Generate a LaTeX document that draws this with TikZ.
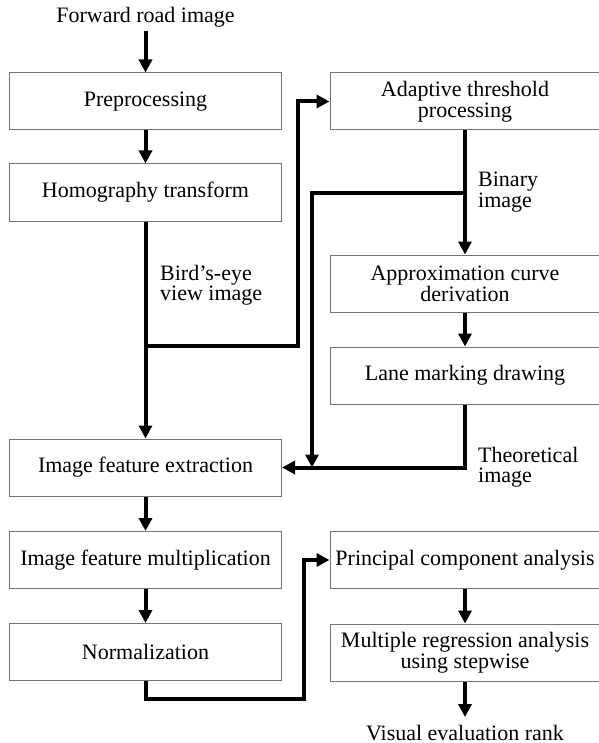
\documentclass[tikz,border=0pt]{standalone}
\usepackage{fontspec}
\setmainfont{Liberation Serif}
\usetikzlibrary{arrows.meta}
\begin{document}
\begin{tikzpicture}[x=1pt,y=-1pt,
  box/.style={draw=black!55,line width=1pt,minimum height=57pt,inner sep=0pt,align=center,
    font=\fontsize{22}{21}\selectfont},
  lbox/.style={box,minimum width=272pt},
  rbox/.style={box,minimum width=270pt},
  lab/.style={align=left,inner sep=0pt,anchor=west,font=\fontsize{22}{20.5}\selectfont},
  txt/.style={inner sep=0pt,font=\fontsize{22}{21}\selectfont},
  conn/.style={line width=4pt,-{Triangle[length=13pt,width=13pt]}}]
\useasboundingbox (0,0) rectangle (598,743);
\node[txt] (fwd) at (145.5,17) {Forward road image};
\node[lbox] (pre) at (145.5,101.5) {Preprocessing};
\node[lbox] (hom) at (145.5,192.5) {Homography transform};
\node[lbox] (ife) at (145.5,467.5) {Image feature extraction};
\node[lbox] (ifm) at (145.5,560) {Image feature multiplication};
\node[lbox] (nrm) at (145.5,652) {Normalization};
\node[rbox] (ada) at (465,101.5) {Adaptive threshold\\processing};
\node[rbox] (apx) at (465,283.5) {Approximation curve\\derivation};
\node[rbox] (lane) at (465,375.5) {Lane marking drawing};
\node[rbox] (pca) at (465,560) {Principal component analysis};
\node[rbox] (mra) at (465,652.5) {Multiple regression analysis\\using stepwise};
\node[txt] (ver) at (465,733) {Visual evaluation rank};
\node[lab] (lbird) at (160,285) {Bird’s-eye\\view image};
\node[lab] (lbin) at (478,192) {Binary\\image};
\node[lab] (lthe) at (478,467) {Theoretical\\image};
\coordinate (b1) at (145.5,346);
\coordinate (b2) at (298,346);
\coordinate (c1) at (465,193);
\coordinate (c2) at (312,193);
\coordinate (c3) at (312,467.5);
\coordinate (d1) at (304,699);
\draw[conn] (fwd.south |- 0,31) -- (pre.north);
\draw[conn] (pre) -- (hom);
\draw[conn] (hom) -- (ife);
\draw[conn] (b1) -- (b2) |- (ada.west);
\draw[conn] (ada) -- (apx);
\draw[conn] (c1) -- (c2) -- (c3);
\draw[conn] (apx) -- (lane);
\draw[conn] (lane.south) |- (ife.east);
\draw[conn] (ife) -- (ifm);
\draw[conn] (ifm) -- (nrm);
\draw[conn] (nrm.south) |- (d1) |- (pca.west);
\draw[conn] (pca) -- (mra);
\draw[conn] (mra.south) -- (465,717);
\end{tikzpicture}
\end{document}
